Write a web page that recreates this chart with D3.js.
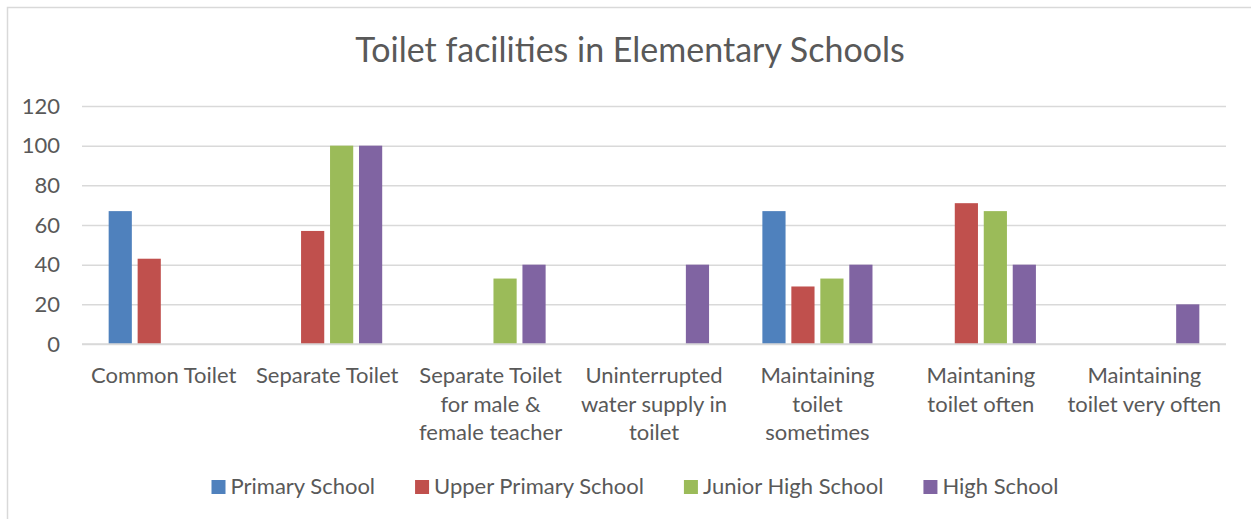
<!DOCTYPE html>
<html>
<head>
<meta charset="utf-8">
<script src="https://cdn.jsdelivr.net/npm/d3@7"></script>
<style>
  html, body { margin: 0; padding: 0; background: #fff; }
  svg { display: block; }
  text { font-family: Lato, "Open Sans", sans-serif; fill: #595959; }
</style>
</head>
<body>
<svg id="chart" width="1251" height="519"></svg>
<script>
// Categories, with the way each label breaks over lines
const categories = [
  "Common Toilet",
  "Separate Toilet",
  "Separate Toilet for male & female teacher",
  "Uninterrupted water supply in toilet",
  "Maintaining toilet sometimes",
  "Maintaning toilet often",
  "Maintaining toilet very often"
];
const categoryLines = [
  ["Common Toilet"],
  ["Separate Toilet"],
  ["Separate Toilet", "for male &", "female teacher"],
  ["Uninterrupted", "water supply in", "toilet"],
  ["Maintaining", "toilet", "sometimes"],
  ["Maintaning", "toilet often"],
  ["Maintaining", "toilet very often"]
];

const seriesNames = ["Primary School", "Upper Primary School", "Junior High School", "High School"];
const seriesColors = ["#4f81bd", "#c0504d", "#9bbb59", "#8064a2"];

const primarySchool      = [67, 0, 0, 0, 67, 0, 0];
const upperPrimarySchool = [43, 57, 0, 0, 29, 71, 0];
const juniorHighSchool   = [0, 100, 33, 0, 33, 67, 0];
const highSchool         = [0, 100, 40, 40, 40, 40, 20];

const yTicks = [0, 20, 40, 60, 80, 100, 120];
const title = "Toilet facilities in Elementary Schools";

const seriesValues = [primarySchool, upperPrimarySchool, juniorHighSchool, highSchool];

const svg = d3.select("#chart");
const W = 1251, H = 519;

// chart border
svg.append("rect")
  .attr("x", 7.5).attr("y", 7.5)
  .attr("width", W + 10).attr("height", H + 10)
  .attr("fill", "#fff")
  .attr("stroke", "#d9d9d9")
  .attr("stroke-width", 1.5);

const plot = { left: 82, right: 1226, top: 106, bottom: 344 };

const x0 = d3.scaleBand()
  .domain(categories)
  .range([plot.left, plot.right])
  .paddingInner(0).paddingOuter(0);

const x1 = d3.scaleBand()
  .domain(seriesNames)
  .range([0, x0.bandwidth()])
  .paddingInner(0.2)
  .paddingOuter(0.92);

const y = d3.scaleLinear()
  .domain([0, 120])
  .range([plot.bottom, plot.top]);

// title
svg.append("text")
  .attr("x", 630).attr("y", 62)
  .attr("text-anchor", "middle")
  .style("font-size", "34px")
  .text(title);

// gridlines and y labels
const yAxis = d3.axisLeft(y).tickValues(yTicks)
  .tickSize(-(plot.right - plot.left)).tickPadding(22);
const yG = svg.append("g")
  .attr("transform", `translate(${plot.left},0)`)
  .call(yAxis);
yG.select(".domain").remove();
yG.selectAll(".tick line").attr("stroke", "#d9d9d9").attr("stroke-width", 1.5);
yG.selectAll(".tick text")
  .style("font-size", "22px")
  .style("font-family", "Lato, 'Open Sans', sans-serif")
  .attr("fill", "#595959");

// bars
const groups = svg.append("g").selectAll("g")
  .data(categories)
  .join("g")
  .attr("transform", d => `translate(${x0(d)},0)`);

groups.selectAll("rect")
  .data((c, i) => seriesNames.map((s, k) => ({ s, k, v: seriesValues[k][i] })).filter(d => d.v > 0))
  .join("rect")
  .attr("x", d => x1(d.s))
  .attr("width", x1.bandwidth())
  .attr("y", d => y(d.v))
  .attr("height", d => y(0) - y(d.v))
  .attr("fill", d => seriesColors[d.k]);

// baseline
svg.append("line")
  .attr("x1", plot.left).attr("x2", plot.right)
  .attr("y1", y(0)).attr("y2", y(0))
  .attr("stroke", "#d9d9d9").attr("stroke-width", 1.5);

// category labels
const xl = svg.append("g");
categories.forEach((c, i) => {
  const t = xl.append("text")
    .attr("text-anchor", "middle")
    .style("font-size", "22px")
    .attr("x", x0(c) + x0.bandwidth() / 2)
    .attr("y", 383);
  categoryLines[i].forEach((line, j) => {
    t.append("tspan")
      .attr("x", x0(c) + x0.bandwidth() / 2)
      .attr("dy", j === 0 ? 0 : 28.5)
      .text(line);
  });
});

// legend
const legend = svg.append("g");
const items = legend.selectAll("g")
  .data(seriesNames)
  .join("g");
items.append("rect")
  .attr("width", 14).attr("height", 14)
  .attr("y", 480)
  .attr("fill", (d, i) => seriesColors[i]);
items.append("text")
  .attr("x", 19).attr("y", 494)
  .style("font-size", "22px")
  .text(d => d);

const gap = 40;
let cursor = 0;
const offsets = [];
items.each(function () {
  offsets.push(cursor);
  const w = d3.select(this).select("text").node().getComputedTextLength();
  cursor += 19 + w + gap;
});
const totalW = cursor - gap;
const startX = 635 - totalW / 2;
items.attr("transform", (d, i) => `translate(${startX + offsets[i]},0)`);
</script>
</body>
</html>
